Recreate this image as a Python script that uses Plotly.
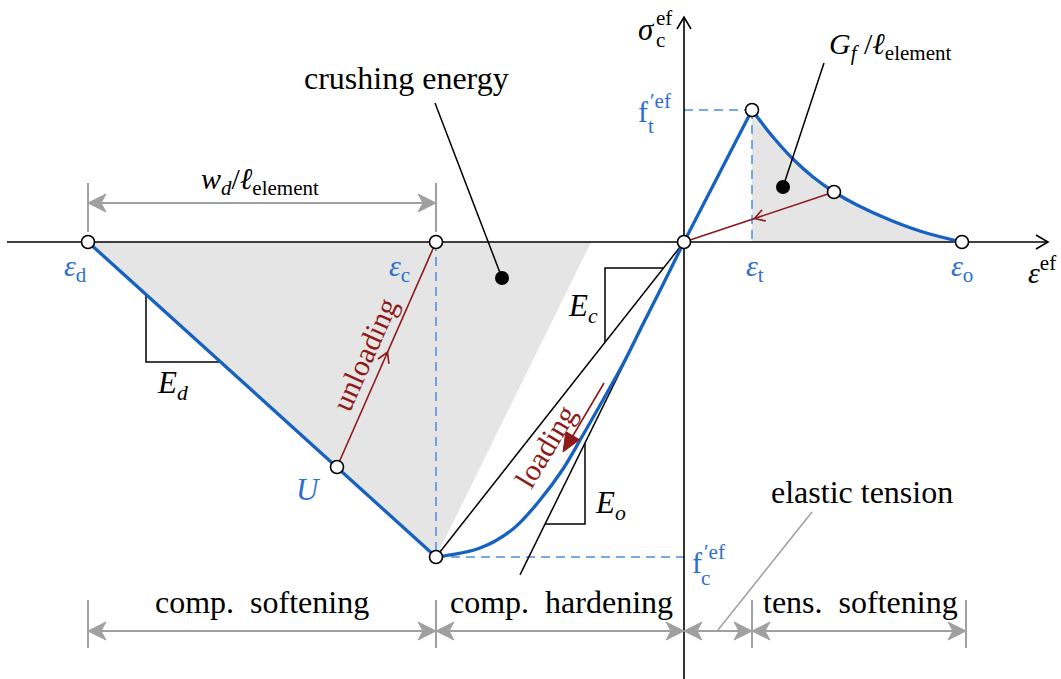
import numpy as np
import plotly.graph_objects as go

# ---------------------------------------------------------------
# Characteristic points of the effective stress-strain law
# (normalised units, tension positive)
# ---------------------------------------------------------------
eps_d = -5.96      # end of compression softening
eps_c = -2.48      # strain at compressive peak
eps_t = 0.68       # strain at tensile peak
eps_o = 2.78       # end of tension softening
f_c = -3.15        # compressive strength f'c
f_t = 1.32         # tensile strength f't
E_o = 2.03         # initial tangent modulus
U_pt = (-3.47, -2.25)   # unloading point on the softening branch
T_pt = (1.50, 0.50)     # unloading point on the tension softening branch

# compression hardening branch (peak -> origin)
hard_eps = [-2.48, -2.04, -1.71, -1.44, -1.21, -1.01, -0.81, -0.61, -0.42, -0.22, 0.0]
hard_sig = [-3.15, -3.06, -2.87, -2.58, -2.27, -1.93, -1.58, -1.22, -0.84, -0.445, 0.0]

# tension softening branch (peak -> eps_o)
soft_eps = [0.68, 0.89, 1.09, 1.29, 1.50, 1.73, 2.06, 2.39, 2.78]
soft_sig = [1.32, 1.05, 0.83, 0.65, 0.50, 0.37, 0.22, 0.10, 0.0]

# ---------------------------------------------------------------
# Styling
# ---------------------------------------------------------------
BLUE = "#1762c0"
LBLUE = "#2c6fcf"
DASH = "#4a8fe0"
RED = "#8e1a1a"
GRAY = "#a0a0a0"
FILL = "#e5e5e5"
FONT = "'Liberation Serif', 'Times New Roman', serif"

XR = [-6.84, 3.77]
YR = [-4.37, 2.42]
S = 100.0  # pixels per unit on both axes


def P(px, py):
    """page pixel -> axis units (used for label placement)"""
    return XR[0] + px / S, YR[1] - py / S


fig = go.Figure()


def line(x, y, color="black", width=1.5, dash=None, shape="linear", **kw):
    fig.add_trace(go.Scatter(x=x, y=y, mode="lines", hoverinfo="skip",
                             line=dict(color=color, width=width, dash=dash, shape=shape),
                             **kw))


def unit(d):
    d = np.asarray(d, float)
    return d / np.hypot(*d)


def chevron(tip, direction, color, length=0.11, spread=0.065, width=1.5):
    d = unit(direction)
    p = np.array([-d[1], d[0]])
    tip = np.asarray(tip, float)
    b = tip - length * d
    a1 = b + spread * p
    a2 = b - spread * p
    line([a1[0], tip[0], a2[0]], [a1[1], tip[1], a2[1]], color=color, width=width)


def head(tip, direction, color, length=0.18, half=0.09, notch=0.05):
    d = unit(direction)
    p = np.array([-d[1], d[0]])
    tip = np.asarray(tip, float)
    b = tip - length * d
    n = tip - (length - notch) * d
    pts = [tip, b + half * p, n, b - half * p, tip]
    fig.add_trace(go.Scatter(x=[q[0] for q in pts], y=[q[1] for q in pts], mode="lines",
                             fill="toself", fillcolor=color, hoverinfo="skip",
                             line=dict(color=color, width=1)))


def dim_arrow(x0, x1, y, color=GRAY, width=2):
    line([x0 + 0.1, x1 - 0.1], [y, y], color=color, width=width)
    head((x0, y), (-1, 0), color)
    head((x1, y), (1, 0), color)


def along(a, b, t):
    return (a[0] + t * (b[0] - a[0]), a[1] + t * (b[1] - a[1]))


# ---------------------------------------------------------------
# Shaded energy areas
# ---------------------------------------------------------------
edge = eps_c - f_c / E_o  # unloading with E_o from the compressive peak
fig.add_trace(go.Scatter(x=[eps_d, edge, eps_c, eps_d], y=[0, 0, f_c, 0],
                         mode="lines", fill="toself", fillcolor=FILL,
                         line=dict(width=0, color=FILL), hoverinfo="skip"))
fig.add_trace(go.Scatter(x=soft_eps, y=soft_sig, mode="lines", fill="tozeroy",
                         fillcolor=FILL, line=dict(width=0, color=FILL, shape="spline"),
                         hoverinfo="skip"))

# ---------------------------------------------------------------
# Dashed guide lines
# ---------------------------------------------------------------
line([0, eps_t], [f_t, f_t], color=DASH, dash="9px,6px")
line([eps_t, eps_t], [f_t, 0], color=DASH, dash="9px,6px")
line([eps_c, eps_c], [0, f_c], color=DASH, dash="9px,6px")
line([eps_c, 0], [f_c, f_c], color=DASH, dash="9px,6px")

# ---------------------------------------------------------------
# Axes
# ---------------------------------------------------------------
x_end, y_top = 3.64, 2.25
line([XR[0] + 0.07, x_end], [0, 0], width=1.6)
line([0, 0], [YR[0] - 0.1, y_top], width=1.6)
chevron((x_end, 0), (1, 0), "black", length=0.12, spread=0.07, width=1.6)
chevron((0, y_top), (0, 1), "black", length=0.12, spread=0.07, width=1.6)

# ---------------------------------------------------------------
# Secant / tangent moduli and slope triangles
# ---------------------------------------------------------------
E_c = f_c / eps_c
E_d = f_c / (eps_c - eps_d)
line([eps_c, 0], [f_c, 0], width=1.5)                 # secant E_c
line([-1.64, 0], [-1.64 * E_o, 0], width=1.5)          # initial tangent E_o

xc, yc = -0.79, -0.26
line([yc / E_c, xc, xc], [yc, yc, xc * E_c], width=1.5)
xo, yo = -0.99, -2.82
line([xo, xo, yo / E_o], [xo * E_o, yo, yo], width=1.5)
xd, yd = -5.38, -1.20
line([xd, xd, eps_d + yd / E_d], [E_d * (xd - eps_d), yd, yd], width=1.5)

# ---------------------------------------------------------------
# Constitutive curve
# ---------------------------------------------------------------
line([eps_d, eps_c], [0, f_c], color=BLUE, width=3.3)
line(hard_eps, hard_sig, color=BLUE, width=3.3, shape="spline")
line([0, eps_t], [0, f_t], color=BLUE, width=3.3)
line(soft_eps, soft_sig, color=BLUE, width=3.3, shape="spline")

# unloading / loading paths
line([U_pt[0], eps_c], [U_pt[1], 0], color=RED, width=1.6)
chevron(along(U_pt, (eps_c, 0), 0.51), (eps_c - U_pt[0], -U_pt[1]), RED,
        length=0.10, spread=0.06, width=1.6)
line([T_pt[0], 0], [T_pt[1], 0], color=RED, width=1.6)
chevron(along(T_pt, (0, 0), 0.53), (-T_pt[0], -T_pt[1]), RED,
        length=0.10, spread=0.06, width=1.6)
lx0, ly0, lx1, ly1 = -0.80, -1.41, -1.21, -2.10
line([lx0, lx1 + 0.08], [ly0, ly1 + 0.13], color=RED, width=1.6)
head((lx1, ly1), (lx1 - lx0, ly1 - ly0), RED, length=0.19, half=0.08, notch=0.0)

# ---------------------------------------------------------------
# Dimension arrows
# ---------------------------------------------------------------
y_wd = 0.39
line([eps_d, eps_d], [0.10, 0.59], color=GRAY, width=2)
line([eps_c, eps_c], [0.10, 0.59], color=GRAY, width=2)
dim_arrow(eps_d, eps_c, y_wd)

y_b = -3.89
for xv in [eps_d, eps_c, eps_t, eps_o + 0.04]:
    line([xv, xv], [-3.58, -4.06], color=GRAY, width=2)
dim_arrow(eps_d, eps_c, y_b)
dim_arrow(eps_c, 0, y_b)
dim_arrow(0, eps_t, y_b)
dim_arrow(eps_t, eps_o + 0.04, y_b)

# ---------------------------------------------------------------
# Leaders to the energy areas
# ---------------------------------------------------------------
dot_c = (-1.82, -0.36)
dot_t = (0.99, 0.55)
line([P(435, 103)[0], dot_c[0]], [P(435, 103)[1], dot_c[1]], width=1.5)
line([P(824, 63)[0], dot_t[0]], [P(824, 63)[1], dot_t[1]], width=1.5)
line([P(812, 512)[0], P(718, 630)[0]], [P(812, 512)[1], P(718, 630)[1]], color=GRAY, width=1.5)
fig.add_trace(go.Scatter(x=[dot_c[0], dot_t[0]], y=[dot_c[1], dot_t[1]], mode="markers",
                         marker=dict(size=14, color="black"), hoverinfo="skip"))

# ---------------------------------------------------------------
# Characteristic points
# ---------------------------------------------------------------
px_ = [eps_d, eps_c, eps_c, U_pt[0], 0, eps_t, T_pt[0], eps_o]
py_ = [0, 0, f_c, U_pt[1], 0, f_t, T_pt[1], 0]
fig.add_trace(go.Scatter(x=px_, y=py_, mode="markers", hoverinfo="skip",
                         marker=dict(size=13, color="white", line=dict(color="black", width=1.6))))

# ---------------------------------------------------------------
# Labels
# ---------------------------------------------------------------
def label(px, py, text, size=30, color="black", angle=0, xanchor="center"):
    x, y = P(px, py)
    fig.add_annotation(x=x, y=y, text=text, showarrow=False, textangle=angle,
                       xanchor=xanchor, yanchor="middle", borderpad=0,
                       font=dict(family=FONT, size=size, color=color))


label(406, 78, "crushing energy", size=32)
label(260, 181, "<i>w</i><sub><i>d</i></sub>/<i>ℓ</i><sub>element</sub>")
label(890, 46, "<i>G</i><sub><i>f</i></sub> /<i>ℓ</i><sub>element</sub>")
label(862, 492, "elastic tension", size=32)
label(262, 602, "comp.  softening", size=32)
label(561, 602, "comp.  hardening", size=32)
label(860, 602, "tens.  softening", size=32)

label(75, 268, "<i>ε</i><sub>d</sub>", color=LBLUE)
label(399, 268, "<i>ε</i><sub>c</sub>", color=LBLUE)
label(755, 268, "<i>ε</i><sub>t</sub>", color=LBLUE)
label(962, 268, "<i>ε</i><sub>o</sub>", color=LBLUE)
label(1042, 270, "<i>ε</i><sup>ef</sup>")

label(646, 29, "<i>σ</i>", size=31)
label(655, 18, "ef", size=21, xanchor="left")
label(655, 40, "c", size=21, xanchor="left")

label(643, 111, "f", size=30, color=LBLUE)
label(649, 101, "′ef", size=21, color=LBLUE, xanchor="left")
label(651, 126, "t", size=21, color=LBLUE)
label(697, 562, "f", size=30, color=LBLUE)
label(703, 552, "′ef", size=21, color=LBLUE, xanchor="left")
label(705, 578, "c", size=21, color=LBLUE)

label(308, 489, "<i>U</i>", color=LBLUE, size=31)
label(172, 385, "<i>E</i><sub><i>d</i></sub>", size=31)
label(583, 308, "<i>E</i><sub><i>c</i></sub>", size=31)
label(610, 505, "<i>E</i><sub><i>o</i></sub>", size=31)

label(364, 354, "unloading", color=RED, angle=-66)
label(545, 446, "loading", color=RED, angle=-59)

fig.update_layout(
    width=1061, height=679,
    margin=dict(l=0, r=0, t=0, b=0, pad=0),
    paper_bgcolor="white", plot_bgcolor="white",
    showlegend=False,
    xaxis=dict(range=XR, visible=False, fixedrange=True),
    yaxis=dict(range=YR, visible=False, fixedrange=True),
)

fig.write_html("out.html")
